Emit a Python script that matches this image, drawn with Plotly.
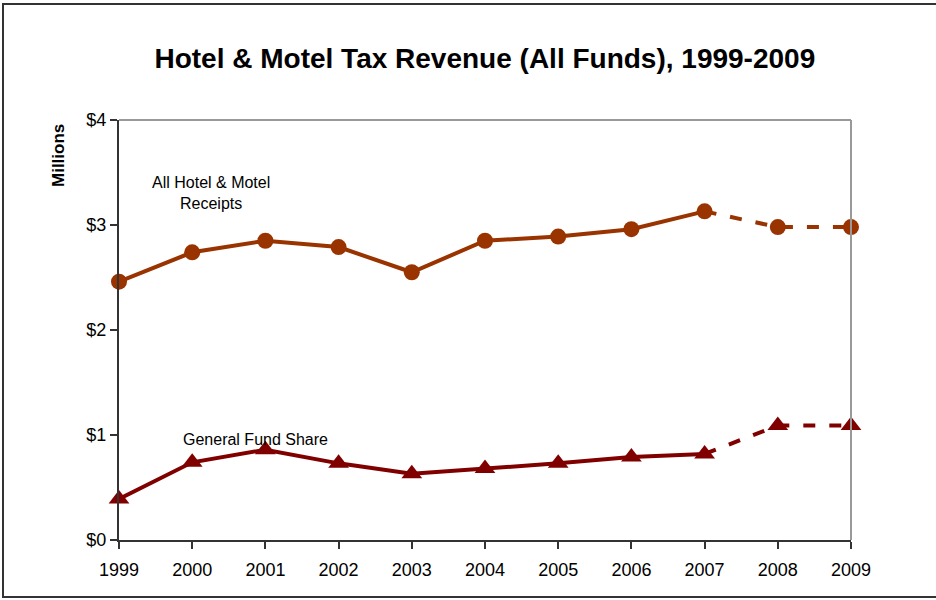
import plotly.graph_objects as go

years = [1999, 2000, 2001, 2002, 2003, 2004, 2005, 2006, 2007, 2008, 2009]
all_receipts = [2.46, 2.74, 2.85, 2.79, 2.55, 2.85, 2.89, 2.96, 3.13, 2.98, 2.98]
general_fund = [0.39, 0.74, 0.86, 0.73, 0.63, 0.68, 0.73, 0.79, 0.82, 1.09, 1.09]
actual_n = 9  # 1999-2007 actual, 2008-2009 projected
y_ticks = [0, 1, 2, 3, 4]

orange = "#993300"
red = "#800000"

fig = go.Figure()

def add_series(vals, color, symbol, size):
    fig.add_trace(go.Scatter(x=years[:actual_n], y=vals[:actual_n], mode="lines",
                             line=dict(color=color, width=4), cliponaxis=False,
                             showlegend=False, hoverinfo="skip"))
    fig.add_trace(go.Scatter(x=years[actual_n-1:], y=vals[actual_n-1:], mode="lines",
                             line=dict(color=color, width=4, dash="12px,14px"), cliponaxis=False,
                             showlegend=False, hoverinfo="skip"))
    fig.add_trace(go.Scatter(x=years, y=vals, mode="markers",
                             marker=dict(color=color, size=size, symbol=symbol),
                             cliponaxis=False, showlegend=False))

add_series(all_receipts, orange, "circle", 16)
add_series(general_fund, red, "triangle-up", 18)

fig.update_layout(
    width=936, height=600,
    margin=dict(l=119, r=85, t=120, b=60),
    paper_bgcolor="white", plot_bgcolor="white",
    font=dict(family="Liberation Sans, Arial, sans-serif", color="black"),
    title=dict(text="<b>Hotel & Motel Tax Revenue (All Funds), 1999-2009</b>",
               x=0.518, xanchor="center", y=0.903, yanchor="middle",
               font=dict(size=28, color="black")),
    xaxis=dict(range=[1999, 2009], tickvals=years, ticktext=[str(y) for y in years],
               showgrid=False, zeroline=False, showline=True, linecolor="#333333", linewidth=2,
               ticks="outside", ticklen=7, tickcolor="#333333", tickwidth=1.5,
               ticklabelstandoff=5, tickfont=dict(size=18)),
    yaxis=dict(range=[0, 4], tickvals=y_ticks, ticktext=["$%d" % v for v in y_ticks],
               showgrid=False, zeroline=False, showline=True, linecolor="#333333", linewidth=2,
               ticks="outside", ticklen=7, tickcolor="#333333", tickwidth=1.5,
               tickfont=dict(size=18)),
    shapes=[
        dict(type="line", xref="paper", yref="paper", x0=0, x1=1, y0=1, y1=1,
             line=dict(color="#999999", width=2)),
        dict(type="line", xref="paper", yref="paper", x0=1, x1=1, y0=0, y1=1,
             line=dict(color="#999999", width=2)),
        dict(type="rect", xref="paper", yref="paper",
             x0=(3 - 119) / 732, x1=(940 - 119) / 732,
             y0=(540 - 597) / 420, y1=(540 - 4) / 420,
             line=dict(color="#333333", width=2), fillcolor="rgba(0,0,0,0)"),
    ],
    annotations=[
        dict(text="<b>Millions</b>", xref="paper", yref="paper",
             x=(58 - 119) / 732, y=(540 - 156) / 420, textangle=-90, showarrow=False,
             font=dict(size=17), xanchor="center", yanchor="middle"),
        dict(text="All Hotel & Motel<br>Receipts", xref="paper", yref="paper",
             x=(211 - 119) / 732, y=(540 - 193) / 420, showarrow=False,
             font=dict(size=16), xanchor="center", yanchor="middle", align="center"),
        dict(text="General Fund Share", xref="paper", yref="paper",
             x=(255 - 119) / 732, y=(540 - 439) / 420, showarrow=False,
             font=dict(size=16), xanchor="center", yanchor="middle"),
    ],
)

fig.write_html("out.html", config={"displayModeBar": False},
               post_script="document.body.style.margin='0';document.body.style.overflow='hidden';")
